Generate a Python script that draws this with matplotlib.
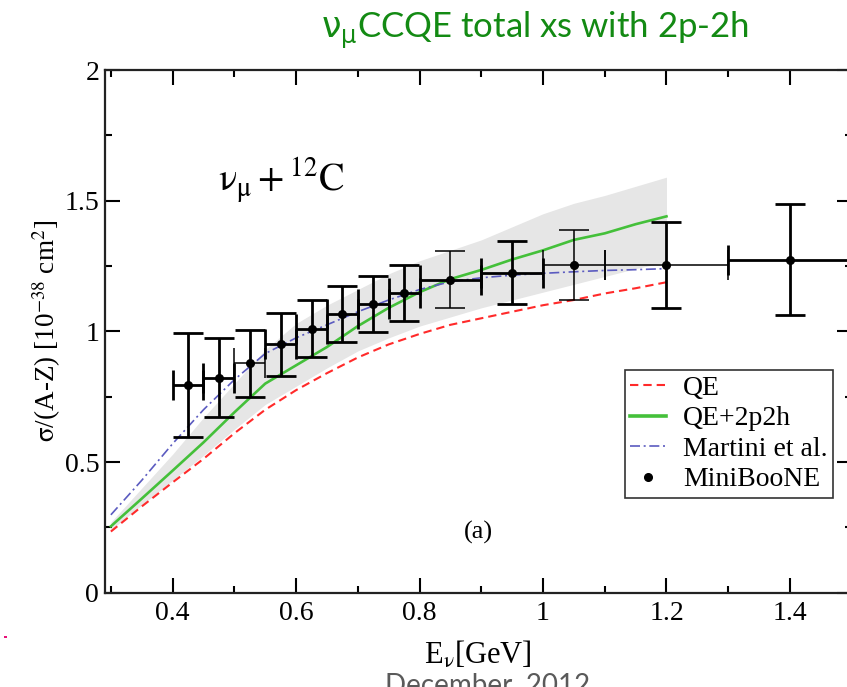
import matplotlib
matplotlib.use("Agg")
import matplotlib.pyplot as plt
from matplotlib.lines import Line2D
from matplotlib.patches import Rectangle

plt.rcParams["mathtext.fontset"] = "stix"
plt.rcParams["font.family"] = ["Liberation Serif", "DejaVu Serif"]

# MiniBooNE data (bin centre, bin edges, value, error)
e_data = [0.425, 0.475, 0.525, 0.575, 0.625, 0.675, 0.725, 0.775, 0.85, 0.95, 1.05, 1.2, 1.4]
e_lo = [0.40, 0.45, 0.50, 0.55, 0.60, 0.65, 0.70, 0.75, 0.80, 0.90, 1.00, 1.10, 1.30]
e_hi = [0.45, 0.50, 0.55, 0.60, 0.65, 0.70, 0.75, 0.80, 0.90, 1.00, 1.10, 1.30, 1.50]
xs_data = [0.795, 0.823, 0.877, 0.950, 1.010, 1.067, 1.105, 1.148, 1.198, 1.225, 1.254, 1.254, 1.274]
xs_err = [0.198, 0.151, 0.130, 0.120, 0.110, 0.107, 0.107, 0.107, 0.110, 0.120, 0.134, 0.163, 0.212]

# theory curves
e_curve = [0.30, 0.35, 0.40, 0.45, 0.50, 0.55, 0.60, 0.65, 0.70, 0.75,
           0.80, 0.85, 0.90, 0.95, 1.00, 1.05, 1.10, 1.15, 1.20]
qe = [0.234, 0.330, 0.422, 0.512, 0.610, 0.700, 0.775, 0.840, 0.900, 0.950,
      0.990, 1.025, 1.050, 1.075, 1.100, 1.120, 1.145, 1.165, 1.188]
qe_2p2h = [0.254, 0.360, 0.467, 0.575, 0.690, 0.800, 0.870, 0.940, 1.020, 1.090,
           1.150, 1.200, 1.235, 1.275, 1.310, 1.350, 1.375, 1.410, 1.440]
martini = [0.298, 0.430, 0.570, 0.700, 0.815, 0.915, 0.975, 1.025, 1.075, 1.120,
           1.160, 1.190, 1.205, 1.215, 1.222, 1.228, 1.233, 1.236, 1.240]
band_lo = [0.240, 0.335, 0.430, 0.525, 0.625, 0.720, 0.790, 0.860, 0.925, 0.975,
           1.020, 1.055, 1.090, 1.120, 1.150, 1.180, 1.210, 1.240, 1.265]
band_hi = [0.270, 0.400, 0.530, 0.670, 0.800, 0.930, 1.030, 1.100, 1.160, 1.220,
           1.270, 1.310, 1.350, 1.400, 1.450, 1.490, 1.520, 1.555, 1.590]

# line widths of the error bars (some came out thinner in the original)
xbar_lw = [2.0, 2.0, 1.1, 2.0, 2.0, 2.0, 2.0, 2.0, 2.0, 2.0, 1.1, 1.1, 2.0]
ybar_lw = [2.0, 2.0, 2.0, 2.0, 2.0, 2.0, 2.0, 2.0, 1.1, 2.0, 1.1, 2.0, 2.0]

fig = plt.figure(figsize=(8.47, 6.87), dpi=100)
ax = fig.add_axes([104.7 / 847, 94.3 / 687, 747 / 847, 522.7 / 687])

ax.fill_between(e_curve, band_lo, band_hi, color="#e6e6e6", lw=0, zorder=1)
ax.plot(e_curve, qe, color="#ff2a2a", lw=1.5, dashes=(4, 2.4), zorder=2)
ax.plot(e_curve, qe_2p2h, color="#44c03a", lw=1.9, zorder=2)
ax.plot(e_curve, martini, color="#5b5bc0", lw=1.2, dashes=(6, 2.2, 1.2, 2.2), zorder=2)

for i in range(len(e_data)):
    xl = e_data[i] - e_lo[i]
    xh = e_hi[i] - e_data[i]
    ax.errorbar(e_data[i], xs_data[i], xerr=[[xl], [xh]], fmt="none", ecolor="black",
                elinewidth=xbar_lw[i], capsize=11, capthick=xbar_lw[i], zorder=3)
    ax.errorbar(e_data[i], xs_data[i], yerr=xs_err[i], fmt="none", ecolor="black",
                elinewidth=ybar_lw[i], capsize=11, capthick=ybar_lw[i], zorder=3)
ax.plot(e_data, xs_data, "o", color="black", ms=5.5, zorder=4)

ax.set_xlim(0.29, 1.5)
ax.set_ylim(0, 2)
ax.set_xticks([0.4, 0.6, 0.8, 1.0, 1.2, 1.4])
ax.set_xticklabels(["0.4", "0.6", "0.8", "1", "1.2", "1.4"])
ax.set_xticks([0.3, 0.5, 0.7, 0.9, 1.1, 1.3, 1.5], minor=True)
ax.set_yticks([0, 0.5, 1, 1.5, 2])
ax.set_yticklabels(["0", "0.5", "1", "1.5", "2"])
ax.set_yticks([0.25, 0.75, 1.25, 1.75], minor=True)
ax.tick_params(which="both", direction="in", top=True, right=True, width=1.5, labelsize=20)
ax.tick_params(which="major", length=10.5)
ax.tick_params(which="minor", length=5)
ax.tick_params(axis="x", pad=6)
ax.tick_params(axis="y", pad=4)
for s in ax.spines.values():
    s.set_linewidth(1.6)
    s.set_color("#222222")

ax.set_xlabel(r"E$_{\mathrm{\nu}}$[GeV]", fontsize=22, labelpad=10)
ax.set_ylabel(r"$\mathrm{\sigma}$/(A-Z) [10$^{-38}$ cm$^2$]", fontsize=19.5, labelpad=1)

ax.text(0.473, 1.535, r"$\mathrm{\nu_\mu + {}^{12}C}$", fontsize=27.5, ha="left", va="baseline")
ax.text(0.895, 0.23, "(a)", fontsize=19, ha="center", va="center")

handles = [
    Line2D([], [], color="#ff2a2a", lw=1.5, dashes=(4, 2.4)),
    Line2D([], [], color="#44c03a", lw=2.6),
    Line2D([], [], color="#5b5bc0", lw=1.2, dashes=(6, 2.2, 1.2, 2.2)),
    Line2D([], [], color="black", marker="o", ms=5.5, ls="none"),
]
leg = ax.legend(handles, ["QE", "QE+2p2h", "Martini et al.", "MiniBooNE"],
                loc="upper right", bbox_to_anchor=(0.975, 0.426), borderaxespad=0,
                fontsize=20, fancybox=False, framealpha=1, edgecolor="#333333",
                handlelength=1.3, handletextpad=0.6, labelspacing=0.18, borderpad=0.2)
leg.get_frame().set_linewidth(1.2)

# slide title and footer
fig.text(321 / 847, 1 - 38 / 687, r"$\mathrm{\nu_\mu}$CCQE total xs with 2p-2h",
         fontsize=25, color="#138a13", fontfamily=["Lato", "DejaVu Sans"],
         math_fontfamily="dejavusans", ha="left", va="baseline")
fig.text(385 / 847, -6 / 687, "December, 2012", fontsize=20, color="#5a5a5a",
         fontfamily=["Lato", "DejaVu Sans"], ha="left", va="baseline")
fig.add_artist(Rectangle((4 / 847, 1 - 638 / 687), 3 / 847, 2 / 687,
                         transform=fig.transFigure, color="#e8127a", lw=0))

fig.savefig("out.png", dpi=100)
